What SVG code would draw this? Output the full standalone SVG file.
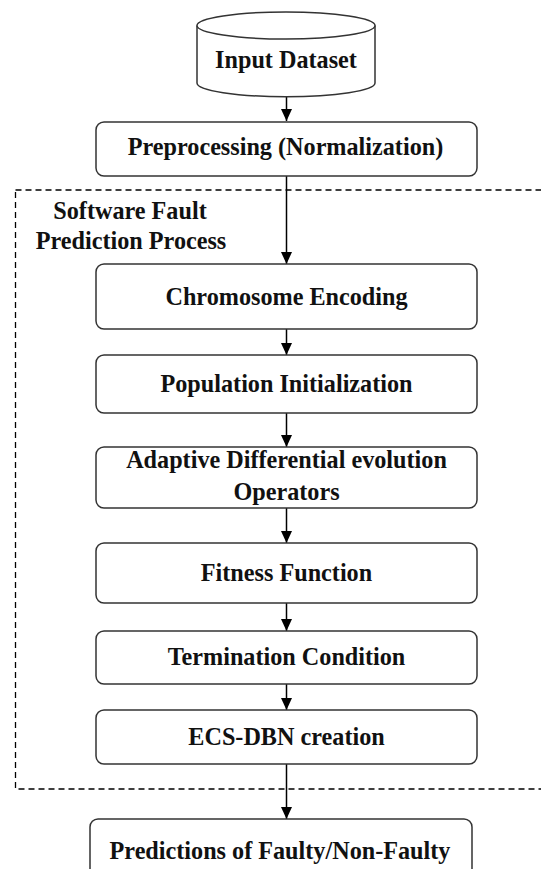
<svg xmlns="http://www.w3.org/2000/svg" width="541" height="869" viewBox="0 0 541 869">
<defs>
<style>
.box{fill:#fff;stroke:#333;stroke-width:1.5}
.t{font-family:'Liberation Serif','Times New Roman',serif;font-weight:700;font-size:24.2px;fill:#111;text-anchor:middle}
.c{stroke:#000;stroke-width:1.5;fill:none}
</style>
<marker id="arr" viewBox="0 0 12 11" markerWidth="12" markerHeight="11" refX="12" refY="5.5" orient="auto" markerUnits="userSpaceOnUse">
<path d="M0,0 L12,5.5 L0,11 Z" fill="#000"/>
</marker>
</defs>
<rect width="541" height="869" fill="#fff"/>
<g id="group-sfp">
<rect x="15.5" y="190" width="540" height="599" fill="none" stroke="#000" stroke-width="1.3" stroke-dasharray="6,4"/>
<text class="t" x="130" y="219">Software Fault</text>
<text class="t" x="131" y="249">Prediction Process</text>
</g>
<g id="connectors">
<line class="c" x1="286.5" y1="97" x2="286.5" y2="121" marker-end="url(#arr)"/>
<line class="c" x1="286.5" y1="176" x2="286.5" y2="264" marker-end="url(#arr)"/>
<line class="c" x1="286.5" y1="329" x2="286.5" y2="355" marker-end="url(#arr)"/>
<line class="c" x1="286.5" y1="413" x2="286.5" y2="447" marker-end="url(#arr)"/>
<line class="c" x1="286.5" y1="508" x2="286.5" y2="543" marker-end="url(#arr)"/>
<line class="c" x1="286.5" y1="603" x2="286.5" y2="631" marker-end="url(#arr)"/>
<line class="c" x1="286.5" y1="684" x2="286.5" y2="710" marker-end="url(#arr)"/>
<line class="c" x1="286.5" y1="764" x2="286.5" y2="819" marker-end="url(#arr)"/>
</g>
<g id="input-dataset">
<path class="box" d="M197,25.5 L197,83 A89,13.7 0 0 0 375,83 L375,25.5"/>
<ellipse class="box" cx="286" cy="25.5" rx="89" ry="13.5"/>
<text class="t" x="286" y="68">Input Dataset</text>
</g>
<g id="preprocessing">
<rect class="box" x="96" y="122" width="381" height="54" rx="8"/>
<text class="t" x="285.5" y="155">Preprocessing (Normalization)</text>
</g>
<g id="chromosome">
<rect class="box" x="96" y="264" width="381" height="65" rx="8"/>
<text class="t" x="286.5" y="305">Chromosome Encoding</text>
</g>
<g id="population">
<rect class="box" x="96" y="355" width="381" height="58" rx="8"/>
<text class="t" x="286.5" y="392">Population Initialization</text>
</g>
<g id="adaptive">
<rect class="box" x="96" y="447" width="381" height="61" rx="8"/>
<text class="t" x="286.5" y="468">Adaptive Differential evolution</text>
<text class="t" x="286.5" y="500">Operators</text>
</g>
<g id="fitness">
<rect class="box" x="96" y="543" width="381" height="60" rx="8"/>
<text class="t" x="286.5" y="581">Fitness Function</text>
</g>
<g id="termination">
<rect class="box" x="96" y="631" width="381" height="53" rx="8"/>
<text class="t" x="286.5" y="665">Termination Condition</text>
</g>
<g id="ecs-dbn">
<rect class="box" x="96" y="710" width="381" height="54" rx="8"/>
<text class="t" x="286.5" y="745">ECS-DBN creation</text>
</g>
<g id="predictions">
<rect class="box" x="90" y="819" width="382" height="70" rx="8"/>
<text class="t" x="280" y="859">Predictions of Faulty/Non-Faulty</text>
</g>
</svg>
